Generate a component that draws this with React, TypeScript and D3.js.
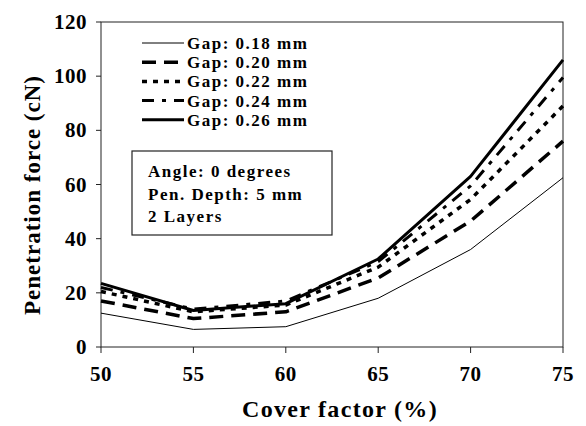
import React from "react";
import * as d3 from "d3";

const coverFactor = [50, 55, 60, 65, 70, 75];
const gap018 = [12.5, 6.5, 7.5, 18, 36, 62.5];
const gap020 = [17, 10.5, 13, 25.5, 46.5, 76];
const gap022 = [20.5, 13, 15.5, 29.5, 54.5, 89];
const gap024 = [22, 14, 17, 31.5, 59.5, 99.5];
const gap026 = [23.5, 13.5, 16, 32.5, 63, 106];
const seriesNames = ["Gap: 0.18 mm", "Gap: 0.20 mm", "Gap: 0.22 mm", "Gap: 0.24 mm", "Gap: 0.26 mm"];
const xTicks = [50, 55, 60, 65, 70, 75];
const yTicks = [0, 20, 40, 60, 80, 100, 120];
const noteLines = ["Angle: 0 degrees", "Pen. Depth: 5 mm", "2 Layers"];

const styles = [
  { w: 1, dash: "" },
  { w: 3.5, dash: "14 8" },
  { w: 3.5, dash: "5 6" },
  { w: 3, dash: "12 8 4 8" },
  { w: 3, dash: "" },
];

const FONT = "'Liberation Serif', 'Times New Roman', serif";

export default function App() {
  const W = 586, H = 426;
  const x = d3.scaleLinear().domain([50, 75]).range([101, 563]);
  const y = d3.scaleLinear().domain([0, 120]).range([347, 22]);
  const all = [gap018, gap020, gap022, gap024, gap026];
  const line = d3
    .line<number>()
    .x((_, i) => x(coverFactor[i]))
    .y((d) => y(d));

  return (
    <svg width={W} height={H} style={{ position: "absolute", left: 0, top: 0, background: "#fff" }}>
      <rect x={0} y={0} width={W} height={H} fill="#fff" />
      <rect x={x(50)} y={y(120)} width={x(75) - x(50)} height={y(0) - y(120)} fill="none" stroke="#222" strokeWidth={1} />
      {yTicks.map((t) => (
        <g key={"y" + t}>
          <line x1={x(50) - 5} x2={x(50)} y1={y(t)} y2={y(t)} stroke="#222" />
          <text x={87} y={y(t) + 7} textAnchor="end" fontFamily={FONT} fontWeight="bold" fontSize={21} letterSpacing={0.5}>
            {t}
          </text>
        </g>
      ))}
      {xTicks.map((t) => (
        <g key={"x" + t}>
          <line x1={x(t)} x2={x(t)} y1={y(0)} y2={y(0) + 6} stroke="#222" />
          <text x={x(t)} y={381} textAnchor="middle" fontFamily={FONT} fontWeight="bold" fontSize={21} letterSpacing={0.5}>
            {t}
          </text>
        </g>
      ))}
      <text x={340} y={417} textAnchor="middle" fontFamily={FONT} fontWeight="bold" fontSize={24} letterSpacing={1.3}>
        Cover factor (%)
      </text>
      <text
        transform={`translate(40,195) rotate(-90)`}
        textAnchor="middle"
        fontFamily={FONT}
        fontWeight="bold"
        fontSize={23}
        letterSpacing={1}
      >
        Penetration force (cN)
      </text>
      {all.map((s, i) => (
        <path
          key={"s" + i}
          d={line(s) || ""}
          fill="none"
          stroke="#000"
          strokeWidth={styles[i].w}
          strokeDasharray={styles[i].dash}
          strokeLinejoin="round"
        />
      ))}
      {seriesNames.map((n, i) => {
        const ly = 43 + i * 19.2;
        return (
          <g key={"l" + i}>
            <line x1={142} x2={184} y1={ly} y2={ly} stroke="#000" strokeWidth={styles[i].w} strokeDasharray={styles[i].dash} />
            <text x={187} y={ly + 6} fontFamily={FONT} fontWeight="bold" fontSize={17} letterSpacing={1.5}>
              {n}
            </text>
          </g>
        );
      })}
      <rect x={132} y={151} width={200} height={84} fill="#fff" stroke="#222" strokeWidth={1.2} />
      {noteLines.map((t, i) => (
        <text key={"n" + i} x={148} y={177 + i * 22.5} fontFamily={FONT} fontWeight="bold" fontSize={17} letterSpacing={1.5}>
          {t}
        </text>
      ))}
    </svg>
  );
}
